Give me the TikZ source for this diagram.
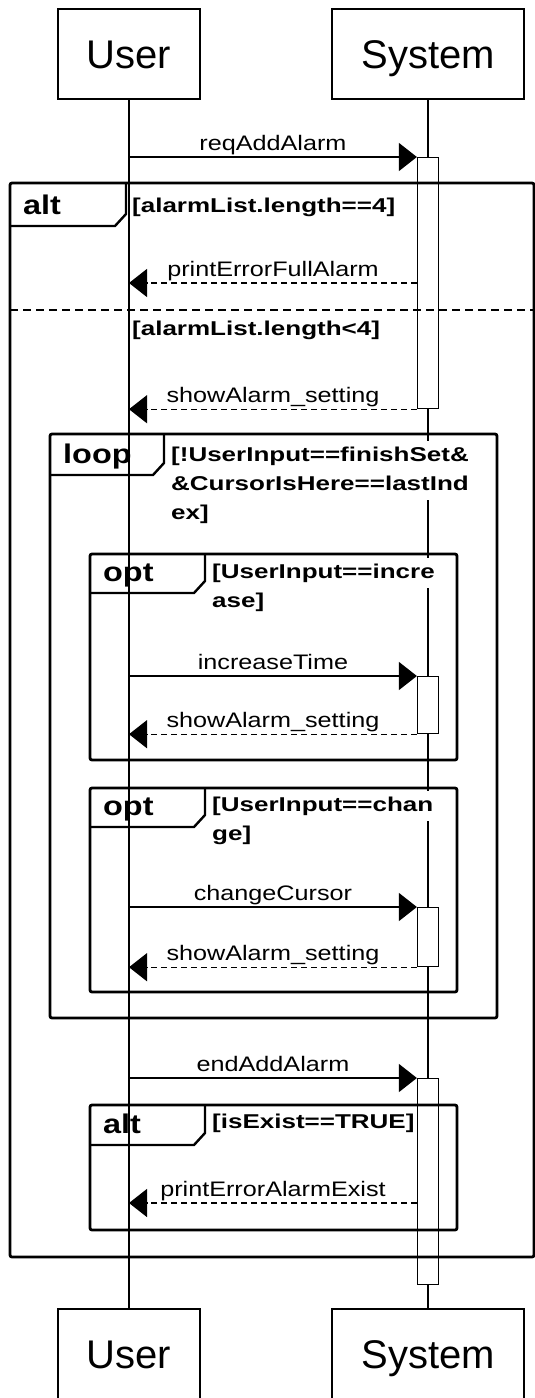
\documentclass[tikz,border=0pt]{standalone}
\usepackage{fontspec}
\usepackage{tikz}
\usetikzlibrary{
  arrows.meta
}
\setmainfont{Liberation Sans}
\newfontfamily\partfont{Liberation Sans}
\newfontfamily\msgfont[FakeStretch=1.2]{Liberation Sans}
\newfontfamily\guardfont[FakeStretch=1.3]{Liberation Sans Bold}
\newfontfamily\kwfont[FakeStretch=1.2]{Liberation Sans Bold}
\colorlet{lineColour}{black}
\colorlet{boxFill}{white}

\begin{document}
\begin{tikzpicture}[
  x=1pt, y=-1pt,
  participant/.style={draw=lineColour, line width=1.4pt, fill=boxFill, minimum height=90pt, inner sep=0pt, text height=29pt, text depth=0pt, font=\partfont\fontsize{40}{48}\selectfont},
  lifeline/.style={draw=lineColour, line width=1.2pt},
  activation/.style={draw=lineColour, line width=1.2pt, fill=boxFill, minimum width=21pt, inner sep=0pt, anchor=north},
  fragment/.style={draw=lineColour, line width=2.8pt, rounded corners=2pt},
  fragment tab/.style={draw=lineColour, line width=2.4pt},
  operand line/.style={draw=lineColour, line width=2.8pt, dash pattern=on 8pt off 5pt},
  keyword/.style={anchor=base west, inner sep=0pt, font=\kwfont\fontsize{27}{32}\selectfont},
  guard/.style={anchor=base west, inner xsep=0pt, inner ysep=2pt, fill=boxFill, text height=18pt, text depth=8pt, font=\guardfont\fontsize{20}{29}\selectfont},
  call/.style={draw=lineColour, line width=1.2pt, -{Triangle[length=18pt,width=28pt]}},
  reply/.style={call, dash pattern=on 6pt off 4pt},
  msglabel/.style={anchor=base, yshift=7pt, inner sep=0pt, font=\msgfont\fontsize{21}{25}\selectfont}
]
\useasboundingbox (0,0) rectangle (535,1398);

\node[participant, minimum width=142pt] (userTop) at (129,54) {User};
\node[participant, minimum width=192pt] (sysTop) at (428,54) {System};
\node[participant, minimum width=142pt] (userBot) at (129,1354) {User};
\node[participant, minimum width=192pt] (sysBot) at (428,1354) {System};
\draw[lifeline] (userTop) -- (userBot);
\draw[lifeline] (sysTop) -- (sysBot);

\node[activation, minimum height=251pt] (act1) at (428,157) {};
\node[activation, minimum height=57pt] (act2) at (428,676) {};
\node[activation, minimum height=59pt] (act3) at (428,907) {};
\node[activation, minimum height=206pt] (act4) at (428,1078) {};

\foreach \fl/\ft/\fr/\fb/\tx/\ty/\kw [count=\i] in {
  10/183/534/1257/126/226/alt,
  50/434/497/1018/164/475/loop,
  90/554/457/760/205/593/opt,
  90/788/457/992/205/827/opt,
  90/1105/457/1230/205/1145/alt} {
  \draw[fragment] (\fl,\ft) rectangle (\fr,\fb);
  \draw[fragment tab] (\fl,\ty) -- (\tx-11,\ty) -- (\tx,\ty-12) -- (\tx,\ft);
  \node[keyword] (kw\i) at (\fl+13,\ty-12) {\kw};
}
\draw[operand line] (10,310) -- (534,310);

\node[guard] (g1) at (132,212) {[alarmList.length==4]};
\node[guard] (g2) at (132,335) {[alarmList.length<4]};
\node[guard] (g3a) at (171,461) {[!UserInput==finishSet\&};
\node[guard] (g3b) at (171,490) {\&CursorIsHere==lastInd};
\node[guard] (g3c) at (171,519) {ex]};
\node[guard] (g4a) at (212,578) {[UserInput==incre};
\node[guard] (g4b) at (212,607) {ase]};
\node[guard] (g5a) at (212,811) {[UserInput==chan};
\node[guard] (g5b) at (212,840) {ge]};
\node[guard] (g6) at (212,1128) {[isExist==TRUE]};

\coordinate (err1) at (417,283);
\coordinate (err2) at (417,1203);
\draw[call] (userTop |- act1.north) -- node[msglabel] {reqAddAlarm} (act1.north west);
\draw[reply] (err1) -- node[msglabel] {printErrorFullAlarm} (userTop |- err1);
\draw[reply] (act1.south west) -- node[msglabel] {showAlarm\_setting} (userTop |- act1.south);
\draw[call] (userTop |- act2.north) -- node[msglabel] {increaseTime} (act2.north west);
\draw[reply] (act2.south west) -- node[msglabel] {showAlarm\_setting} (userTop |- act2.south);
\draw[call] (userTop |- act3.north) -- node[msglabel] {changeCursor} (act3.north west);
\draw[reply] (act3.south west) -- node[msglabel] {showAlarm\_setting} (userTop |- act3.south);
\draw[call] (userTop |- act4.north) -- node[msglabel] {endAddAlarm} (act4.north west);
\draw[reply] (err2) -- node[msglabel] {printErrorAlarmExist} (userTop |- err2);
\end{tikzpicture}
\end{document}
